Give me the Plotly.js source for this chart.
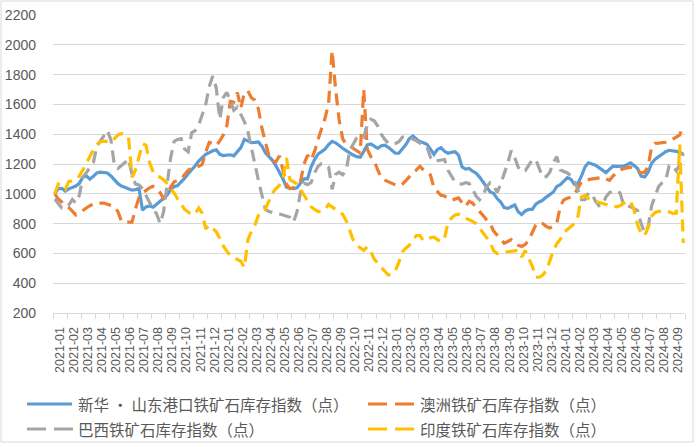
<!DOCTYPE html>
<html>
<head>
<meta charset="utf-8">
<script src="https://cdn.plot.ly/plotly-3.0.1.min.js"></script>
<style>
html,body{margin:0;padding:0;background:#ffffff;}
#chart{width:700px;height:447px;}
</style>
</head>
<body>
<div id="chart"></div>
<script>
// Monthly category labels (x axis)
const months = [
 "2021-01","2021-02","2021-03","2021-04","2021-05","2021-06","2021-07","2021-08","2021-09","2021-10","2021-11","2021-12",
 "2022-01","2022-02","2022-03","2022-04","2022-05","2022-06","2022-07","2022-08","2022-09","2022-10","2022-11","2022-12",
 "2023-01","2023-02","2023-03","2023-04","2023-05","2023-06","2023-07","2023-08","2023-09","2023-10","2023-11","2023-12",
 "2024-01","2024-02","2024-03","2024-04","2024-05","2024-06","2024-07","2024-08","2024-09"
];

// Series names
const nameXinhua = "新华 • 山东港口铁矿石库存指数（点）";
const nameAus = "澳洲铁矿石库存指数（点）";
const nameBra = "巴西铁矿石库存指数（点）";
const nameInd = "印度铁矿石库存指数（点）";

// Weekly readings, four per month
const xinhua = [
1000,1035,1037,1018, 1033,1042,1052,1070, 1112,1120,1098,1118, 1140,1145,1144,1140,
1120,1095,1068,1052, 1042,1033,1024,1028, 1035,890,912,918, 910,930,950,968,
990,1030,1048,1055, 1078,1105,1135,1160, 1188,1220,1243,1265, 1276,1289,1295,1265,
1257,1262,1262,1255, 1285,1310,1365,1355, 1343,1345,1348,1320, 1275,1250,1225,1188,
1145,1100,1045,1037, 1035,1040,1072,1100, 1100,1180,1230,1267, 1283,1300,1330,1352,
1342,1322,1306,1290, 1272,1260,1249,1245, 1285,1328,1335,1318, 1305,1322,1326,1312,
1295,1272,1272,1300, 1330,1370,1388,1368, 1350,1343,1333,1300, 1265,1298,1310,1285,
1272,1278,1282,1260, 1180,1166,1170,1152, 1138,1112,1081,1050, 1013,1003,968,945,
908,902,912,925, 880,860,885,895, 895,930,945,958, 978,995,1012,1050,
1062,1085,1108,1098, 1065,1070,1118,1180, 1208,1200,1192,1176, 1160,1142,1165,1186,
1184,1183,1186,1195, 1207,1190,1170,1118, 1113,1145,1205,1232, 1250,1262,1282,1292,
1290,1285,1280,1265
];

const australia = [
1000,965,945,922, 908,880,858,870, 890,905,920,932, 937,940,938,930,
922,915,880,815, 810,808,810,900, 975,1005,1022,1040, 1050,1040,1008,968,
995,1045,1080,1090, 1100,1130,1158,1172, 1175,1185,1198,1280, 1345,1340,1325,1355,
1395,1455,1620,1615, 1680,1575,1680,1690, 1645,1628,1570,1440, 1345,1255,1220,1215,
1255,1160,1062,1034, 1042,1065,1085,1200, 1260,1225,1285,1365, 1440,1508,1610,1960,
1700,1495,1370,1332, 1320,1305,1290,1274, 1700,1300,1250,1220, 1160,1108,1092,1080,
1070,1060,1052,1065, 1088,1118,1140,1160, 1185,1160,1143,1126, 1040,1012,990,985,
967,957,965,972, 940,915,950,938, 908,885,855,825, 800,750,720,695,
668,680,693,675, 655,647,660,690, 735,790,810,800, 780,770,782,805,
918,960,970,977, 995,1040,1080,1093, 1097,1100,1104,1107, 1110,1100,1090,1120,
1142,1160,1168,1175, 1178,1163,1150,1140, 1145,1182,1318,1339, 1340,1342,1346,1353,
1365,1380,1395,1464
];

const brazil = [
965,935,905,900, 925,962,938,990, 1110,1142,1178,1210, 1320,1355,1382,1425,
1360,1190,1170,1188, 1210,1235,1130,1065, 1060,1035,990,942, 896,866,800,880,
1080,1240,1352,1365, 1370,1300,1282,1410, 1425,1462,1530,1600, 1720,1790,1710,1500,
1645,1680,1628,1560, 1580,1533,1485,1418, 1320,1200,1090,980, 893,881,877,870,
864,858,850,842, 810,880,1012,1070, 1062,1075,1140,1185, 1203,1200,1180,1030,
1130,1145,1127,1155, 1290,1328,1375,1390, 1380,1462,1500,1490, 1455,1400,1365,1340,
1332,1338,1350,1380, 1386,1377,1367,1355, 1340,1330,1315,1245, 1215,1222,1225,1230,
1158,1115,1080,1068, 1065,1075,1070,1030, 985,960,990,1048, 1075,1055,1010,1065,
1130,1205,1290,1245, 1178,1148,1155,1190, 1228,1230,1175,1110, 1116,1145,1210,1250,
1160,1152,1140,1120, 1090,1025,960,960, 1005,1000,950,920, 925,980,1008,1017,
1022,1005,928,920, 913,900,888,800, 740,779,920,985, 1050,1075,1090,1190,
1190,1155,1195,1270
];

const india = [
1000,1065,1050,1030, 1083,1085,1095,1120, 1160,1210,1250,1295, 1330,1350,1354,1350,
1345,1370,1395,1404, 1398,1383,1110,1160, 1260,1337,1325,1210, 1147,1120,1112,1095,
1070,1040,1005,965, 930,895,878,860, 865,905,870,765, 790,770,745,700,
650,615,586,572, 558,547,505,690, 748,790,855,885, 897,945,1005,1035,
1058,1100,1240,1095, 1079,1067,1030,990, 960,913,895,880, 880,897,928,912,
895,875,862,820, 752,690,655,640, 620,645,612,562, 530,506,480,455,
460,482,540,610, 635,656,690,720, 720,686,695,705, 709,695,678,700,
810,838,858,863, 855,837,828,815, 800,770,735,703, 675,618,600,606,
611,611,614,618, 621,575,620,565, 515,440,440,455, 485,550,620,665,
695,740,760,780, 800,850,980,990, 968,956,950,943, 935,928,920,915,
913,920,935,950, 950,890,790,735, 718,775,850,875, 882,885,885,878,
869,870,1330,670
];

// Colours
const cBlue = "#5B9BD5", cOrange = "#ED7D31", cGray = "#A5A5A5", cYellow = "#FFC000";
const dashPat = "12px,7px";

// Positions: four weekly slots inside each month bin
const xs = [];
for (let i = 0; i < months.length; i++) {
  for (let k = 0; k < 4; k++) xs.push(i + (k + 0.5) / 4);
}
const monthCenters = months.map((m, i) => i + 0.5);
const monthEdges = [];
for (let i = 0; i <= months.length; i++) monthEdges.push(i);

function mk(y, name, color, dash) {
  return {
    type: "scatter", mode: "lines", x: xs.slice(0, y.length), y: y, name: name,
    line: {color: color, width: 3.2, dash: dash || "solid"},
    hoverinfo: "skip"
  };
}

const traces = [
  mk(xinhua, nameXinhua, cBlue, "solid"),
  mk(australia, nameAus, cOrange, dashPat),
  mk(brazil, nameBra, cGray, dashPat),
  mk(india, nameInd, cYellow, dashPat)
];

// Geometry helpers (plot area 53..685 x 15..313 px)
const L = 53, R = 685, T = 15, B = 313;
const px = v => (v - L) / (R - L);
const py = v => (B - v) / (B - T);

const legendItems = [
  {name: nameXinhua, color: cBlue, dash: "solid", x0: 27, x1: 72, tx: 76, y: 404},
  {name: nameAus, color: cOrange, dash: "19px,8px", x0: 368, x1: 414, tx: 418, y: 404},
  {name: nameBra, color: cGray, dash: "19px,8px", x0: 27, x1: 73, tx: 76, y: 429},
  {name: nameInd, color: cYellow, dash: "19px,8px", x0: 368, x1: 414, tx: 418, y: 429}
];

const shapes = [{
  type: "rect", xref: "paper", yref: "paper",
  x0: px(1), x1: px(693), y0: py(442), y1: py(1),
  line: {color: "#D9D9D9", width: 1}, fillcolor: "rgba(0,0,0,0)", layer: "below"
}];
const annotations = [];
legendItems.forEach(it => {
  shapes.push({
    type: "line", xref: "paper", yref: "paper",
    x0: px(it.x0), x1: px(it.x1), y0: py(it.y), y1: py(it.y),
    line: {color: it.color, width: 3.2, dash: it.dash}
  });
  annotations.push({
    xref: "paper", yref: "paper", x: px(it.tx), y: py(it.y),
    xanchor: "left", yanchor: "middle", showarrow: false, text: it.name,
    font: {family: "Noto Sans CJK SC, sans-serif", size: 15.5, color: "#595959"}
  });
});

const layout = {
  width: 700, height: 447,
  margin: {l: L, r: 700 - R, t: T, b: 447 - B, pad: 0},
  paper_bgcolor: "#FFFFFF", plot_bgcolor: "#FFFFFF",
  showlegend: false,
  font: {family: "Liberation Sans, Arial, sans-serif", color: "#595959"},
  xaxis: {
    range: [0, months.length], tickmode: "array", tickvals: monthCenters, ticktext: months,
    tickangle: -90, ticks: "", showgrid: false, zeroline: false,
    showline: true, linecolor: "#D9D9D9", linewidth: 1,
    tickfont: {size: 12.5, color: "#595959"}, ticklabelstandoff: 8,
    minor: {tickmode: "array", tickvals: monthEdges, ticks: "outside", ticklen: 5, tickcolor: "#D9D9D9", tickwidth: 1, showgrid: false},
    fixedrange: true
  },
  yaxis: {
    range: [200, 2200], tickmode: "linear", tick0: 200, dtick: 200,
    showgrid: true, gridcolor: "#D9D9D9", gridwidth: 1, zeroline: false, showline: false,
    ticks: "", tickfont: {size: 14, color: "#595959"}, ticklabelstandoff: 16,
    fixedrange: true
  },
  shapes: shapes,
  annotations: annotations
};

Plotly.newPlot("chart", traces, layout, {displayModeBar: false, staticPlot: true});
</script>
</body>
</html>
